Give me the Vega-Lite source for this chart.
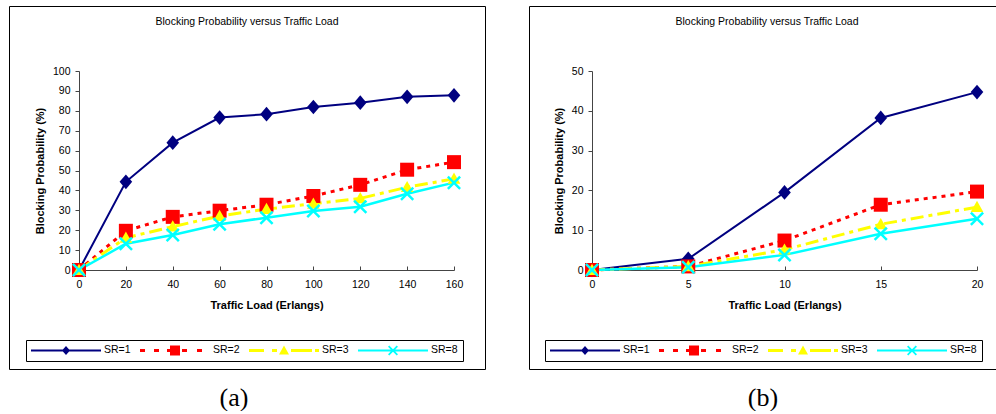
{
  "$schema": "https://vega.github.io/schema/vega-lite/v6.json",
  "background": "white",
  "padding": {"left": 8, "top": 5, "right": -9, "bottom": 0},
  "autosize": {"type": "pad"},
  "spacing": 42,
  "resolve": {"scale": {"color": "independent", "shape": "independent", "x": "independent", "y": "independent"}, "legend": {"color": "independent", "shape": "independent"}},
  "datasets": {
    "a": [
      {"load": 0, "bp": 0, "series": "SR=1"}, {"load": 20, "bp": 44.3, "series": "SR=1"}, {"load": 40, "bp": 64, "series": "SR=1"}, {"load": 60, "bp": 76.6, "series": "SR=1"}, {"load": 80, "bp": 78.3, "series": "SR=1"}, {"load": 100, "bp": 81.9, "series": "SR=1"}, {"load": 120, "bp": 84.1, "series": "SR=1"}, {"load": 140, "bp": 87, "series": "SR=1"}, {"load": 160, "bp": 87.8, "series": "SR=1"},
      {"load": 0, "bp": 0, "series": "SR=2"}, {"load": 20, "bp": 19.7, "series": "SR=2"}, {"load": 40, "bp": 26.7, "series": "SR=2"}, {"load": 60, "bp": 29.8, "series": "SR=2"}, {"load": 80, "bp": 32.8, "series": "SR=2"}, {"load": 100, "bp": 37.2, "series": "SR=2"}, {"load": 120, "bp": 42.8, "series": "SR=2"}, {"load": 140, "bp": 50.4, "series": "SR=2"}, {"load": 160, "bp": 54.2, "series": "SR=2"},
      {"load": 0, "bp": 0, "series": "SR=3"}, {"load": 20, "bp": 16.2, "series": "SR=3"}, {"load": 40, "bp": 21.8, "series": "SR=3"}, {"load": 60, "bp": 27.1, "series": "SR=3"}, {"load": 80, "bp": 30.6, "series": "SR=3"}, {"load": 100, "bp": 33.3, "series": "SR=3"}, {"load": 120, "bp": 36, "series": "SR=3"}, {"load": 140, "bp": 41.6, "series": "SR=3"}, {"load": 160, "bp": 45.8, "series": "SR=3"},
      {"load": 0, "bp": 0, "series": "SR=8"}, {"load": 20, "bp": 13.2, "series": "SR=8"}, {"load": 40, "bp": 17.6, "series": "SR=8"}, {"load": 60, "bp": 23, "series": "SR=8"}, {"load": 80, "bp": 26.3, "series": "SR=8"}, {"load": 100, "bp": 29.6, "series": "SR=8"}, {"load": 120, "bp": 31.8, "series": "SR=8"}, {"load": 140, "bp": 38.3, "series": "SR=8"}, {"load": 160, "bp": 43.9, "series": "SR=8"}
    ],
    "b": [
      {"load": 0, "bp": 0, "series": "SR=1"}, {"load": 5, "bp": 2.8, "series": "SR=1"}, {"load": 10, "bp": 19.5, "series": "SR=1"}, {"load": 15, "bp": 38.2, "series": "SR=1"}, {"load": 20, "bp": 44.7, "series": "SR=1"},
      {"load": 0, "bp": 0, "series": "SR=2"}, {"load": 5, "bp": 0.9, "series": "SR=2"}, {"load": 10, "bp": 7.4, "series": "SR=2"}, {"load": 15, "bp": 16.4, "series": "SR=2"}, {"load": 20, "bp": 19.7, "series": "SR=2"},
      {"load": 0, "bp": 0, "series": "SR=3"}, {"load": 5, "bp": 0.9, "series": "SR=3"}, {"load": 10, "bp": 5.1, "series": "SR=3"}, {"load": 15, "bp": 11.5, "series": "SR=3"}, {"load": 20, "bp": 15.8, "series": "SR=3"},
      {"load": 0, "bp": 0, "series": "SR=8"}, {"load": 5, "bp": 0.7, "series": "SR=8"}, {"load": 10, "bp": 3.8, "series": "SR=8"}, {"load": 15, "bp": 9.1, "series": "SR=8"}, {"load": 20, "bp": 12.9, "series": "SR=8"}
    ]
  },
  "hconcat": [
    {
      "title": {"text": "(a)", "orient": "bottom", "anchor": "middle", "font": "Liberation Serif", "fontSize": 26, "fontWeight": "normal", "color": "#000", "offset": 15, "dx": -13},
      "vconcat": [
        {
          "width": 476,
          "height": 363,
          "data": {"name": "a"},
          "title": {"text": "Blocking Probability versus Traffic Load", "orient": "top", "anchor": "middle", "font": "Liberation Sans", "fontSize": 10.5, "fontWeight": "normal", "color": "#000", "offset": -29, "baseline": "alphabetic"},
          "encoding": {
            "x": {"field": "load", "type": "quantitative",
              "scale": {"domain": [0, 160], "range": [70, 445], "nice": false, "zero": false},
              "axis": {"title": "Traffic Load (Erlangs)", "values": [0, 20, 40, 60, 80, 100, 120, 140, 160], "orient": "bottom", "offset": -99, "tickSize": -4, "labelPadding": 13, "titlePadding": 10}},
            "y": {"field": "bp", "type": "quantitative",
              "scale": {"domain": [0, 100], "range": [264, 65], "nice": false, "zero": false},
              "axis": {"title": "Blocking Probability (%)", "values": [0, 10, 20, 30, 40, 50, 60, 70, 80, 90, 100], "orient": "left", "offset": -70, "tickSize": 4, "labelPadding": 5, "titlePadding": 7}}
          },
          "layer": [
            {"transform": [{"filter": "datum.series === 'SR=1'"}], "mark": {"type": "line", "color": "#000080", "strokeWidth": 2}},
            {"transform": [{"filter": "datum.series === 'SR=2'"}], "mark": {"type": "line", "color": "#ff0000", "strokeWidth": 3, "strokeDash": [4, 5]}},
            {"transform": [{"filter": "datum.series === 'SR=3'"}], "mark": {"type": "line", "color": "#ffff00", "strokeWidth": 3, "strokeDash": [13, 5, 4, 5]}},
            {"transform": [{"filter": "datum.series === 'SR=8'"}], "mark": {"type": "line", "color": "#00ffff", "strokeWidth": 2.5}},
            {"transform": [{"filter": "datum.series === 'SR=1'"}], "mark": {"type": "point", "filled": true, "opacity": 1, "size": 196, "strokeWidth": 0, "color": "#000080", "shape": "M0,-1.05L0.9,0L0,1.05L-0.9,0Z"}},
            {"transform": [{"filter": "datum.series === 'SR=2'"}], "mark": {"type": "point", "filled": true, "opacity": 1, "size": 196, "strokeWidth": 0, "color": "#ff0000", "shape": "M-1,-1H1V1H-1Z"}},
            {"transform": [{"filter": "datum.series === 'SR=3'"}], "mark": {"type": "point", "filled": true, "opacity": 1, "size": 196, "strokeWidth": 0, "color": "#ffff00", "shape": "M0,-0.9L0.9,0.7L-0.9,0.7Z"}},
            {"transform": [{"filter": "datum.series === 'SR=8'"}], "mark": {"type": "point", "filled": true, "opacity": 1, "size": 196, "strokeWidth": 0, "color": "#00ffff", "shape": "M-1,-0.75L-0.75,-1L0,-0.25L0.75,-1L1,-0.75L0.25,0L1,0.75L0.75,1L0,0.25L-0.75,1L-1,0.75L-0.25,0Z"}},
            {
              "transform": [{"filter": "datum.series === 'none'"}],
              "mark": {"type": "point", "filled": true, "strokeWidth": 0},
              "encoding": {
                "color": {"field": "series", "type": "nominal",
                  "scale": {"domain": ["SR=1", "SR=2", "SR=3", "SR=8"], "range": ["#000080", "#ff0000", "#ffff00", "#00ffff"]},
                  "legend": {"orient": "none", "legendX": 17, "legendY": 334, "direction": "horizontal", "title": null}},
                "shape": {"field": "series", "type": "nominal",
                  "scale": {"domain": ["SR=1", "SR=2", "SR=3", "SR=8"], "range": [
                    "M-35,-1H35V1H-35Z M0,-4.5L4,0L0,4.5L-4,0Z",
                    "M-35,-1.5H-30V1.5H-35Z M-21,-1.5H-16V1.5H-21Z M-8,-1.5H-5V1.5H-8Z M-5,-5H5V5H-5Z M7,-1.5H12V1.5H7Z M22,-1.5H27V1.5H22Z",
                    "M-35,-1.5H-20V1.5H-35Z M-12,-1.5H-7V1.5H-12Z M0,-5L5,4L-5,4Z M7,-1.5H28V1.5H7Z M31,-1.5H35V1.5H31Z",
                    "M-35,-1H35V1H-35Z M-5,-3.75L-3.75,-5L0,-1.25L3.75,-5L5,-3.75L1.25,0L5,3.75L3.75,5L0,1.25L-3.75,5L-5,3.75L-1.25,0Z"]},
                  "legend": {"orient": "none", "legendX": 17, "legendY": 334, "direction": "horizontal", "title": null}}
              }
            }
          ]
        }
      ]
    },
    {
      "title": {"text": "(b)", "orient": "bottom", "anchor": "middle", "font": "Liberation Serif", "fontSize": 26, "fontWeight": "normal", "color": "#000", "offset": 15, "dx": -4},
      "vconcat": [
        {
          "width": 476,
          "height": 363,
          "data": {"name": "b"},
          "title": {"text": "Blocking Probability versus Traffic Load", "orient": "top", "anchor": "middle", "font": "Liberation Sans", "fontSize": 10.5, "fontWeight": "normal", "color": "#000", "offset": -29, "baseline": "alphabetic"},
          "encoding": {
            "x": {"field": "load", "type": "quantitative",
              "scale": {"domain": [0, 20], "range": [63, 448], "nice": false, "zero": false},
              "axis": {"title": "Traffic Load (Erlangs)", "values": [0, 5, 10, 15, 20], "orient": "bottom", "offset": -99, "tickSize": -4, "labelPadding": 13, "titlePadding": 10}},
            "y": {"field": "bp", "type": "quantitative",
              "scale": {"domain": [0, 50], "range": [264, 65], "nice": false, "zero": false},
              "axis": {"title": "Blocking Probability (%)", "values": [0, 10, 20, 30, 40, 50], "orient": "left", "offset": -63, "tickSize": 4, "labelPadding": 5, "titlePadding": 7}}
          },
          "layer": [
            {"transform": [{"filter": "datum.series === 'SR=1'"}], "mark": {"type": "line", "color": "#000080", "strokeWidth": 2}},
            {"transform": [{"filter": "datum.series === 'SR=2'"}], "mark": {"type": "line", "color": "#ff0000", "strokeWidth": 3, "strokeDash": [4, 5]}},
            {"transform": [{"filter": "datum.series === 'SR=3'"}], "mark": {"type": "line", "color": "#ffff00", "strokeWidth": 3, "strokeDash": [13, 5, 4, 5]}},
            {"transform": [{"filter": "datum.series === 'SR=8'"}], "mark": {"type": "line", "color": "#00ffff", "strokeWidth": 2.5}},
            {"transform": [{"filter": "datum.series === 'SR=1'"}], "mark": {"type": "point", "filled": true, "opacity": 1, "size": 196, "strokeWidth": 0, "color": "#000080", "shape": "M0,-1.05L0.9,0L0,1.05L-0.9,0Z"}},
            {"transform": [{"filter": "datum.series === 'SR=2'"}], "mark": {"type": "point", "filled": true, "opacity": 1, "size": 196, "strokeWidth": 0, "color": "#ff0000", "shape": "M-1,-1H1V1H-1Z"}},
            {"transform": [{"filter": "datum.series === 'SR=3'"}], "mark": {"type": "point", "filled": true, "opacity": 1, "size": 196, "strokeWidth": 0, "color": "#ffff00", "shape": "M0,-0.9L0.9,0.7L-0.9,0.7Z"}},
            {"transform": [{"filter": "datum.series === 'SR=8'"}], "mark": {"type": "point", "filled": true, "opacity": 1, "size": 196, "strokeWidth": 0, "color": "#00ffff", "shape": "M-1,-0.75L-0.75,-1L0,-0.25L0.75,-1L1,-0.75L0.25,0L1,0.75L0.75,1L0,0.25L-0.75,1L-1,0.75L-0.25,0Z"}},
            {
              "transform": [{"filter": "datum.series === 'none'"}],
              "mark": {"type": "point", "filled": true, "strokeWidth": 0},
              "encoding": {
                "color": {"field": "series", "type": "nominal",
                  "scale": {"domain": ["SR=1", "SR=2", "SR=3", "SR=8"], "range": ["#000080", "#ff0000", "#ffff00", "#00ffff"]},
                  "legend": {"orient": "none", "legendX": 16, "legendY": 334, "direction": "horizontal", "title": null}},
                "shape": {"field": "series", "type": "nominal",
                  "scale": {"domain": ["SR=1", "SR=2", "SR=3", "SR=8"], "range": [
                    "M-35,-1H35V1H-35Z M0,-4.5L4,0L0,4.5L-4,0Z",
                    "M-35,-1.5H-30V1.5H-35Z M-21,-1.5H-16V1.5H-21Z M-8,-1.5H-5V1.5H-8Z M-5,-5H5V5H-5Z M7,-1.5H12V1.5H7Z M22,-1.5H27V1.5H22Z",
                    "M-35,-1.5H-20V1.5H-35Z M-12,-1.5H-7V1.5H-12Z M0,-5L5,4L-5,4Z M7,-1.5H28V1.5H7Z M31,-1.5H35V1.5H31Z",
                    "M-35,-1H35V1H-35Z M-5,-3.75L-3.75,-5L0,-1.25L3.75,-5L5,-3.75L1.25,0L5,3.75L3.75,5L0,1.25L-3.75,5L-5,3.75L-1.25,0Z"]},
                  "legend": {"orient": "none", "legendX": 16, "legendY": 334, "direction": "horizontal", "title": null}}
              }
            }
          ]
        }
      ]
    }
  ],
  "config": {
    "font": "Liberation Sans",
    "view": {"stroke": "#000", "strokeWidth": 1},
    "legend": {
      "strokeColor": "#000",
      "fillColor": "#fff",
      "padding": 5,
      "symbolSize": 4,
      "symbolStrokeWidth": 0,
      "symbolOpacity": 1,
      "symbolOffset": 29.75,
      "labelOffset": 32.75,
      "columnPadding": 9,
      "labelFont": "Liberation Sans",
      "labelFontSize": 10.5,
      "labelColor": "#000"
    },
    "axis": {
      "grid": false,
      "domainColor": "#444",
      "domainWidth": 1,
      "tickColor": "#444",
      "tickWidth": 1,
      "labelFont": "Liberation Sans",
      "labelFontSize": 10.5,
      "labelColor": "#000",
      "labelFlush": false,
      "labelOverlap": false,
      "titleFont": "Liberation Sans",
      "titleFontSize": 11,
      "titleFontWeight": "bold",
      "titleColor": "#000"
    }
  }
}
